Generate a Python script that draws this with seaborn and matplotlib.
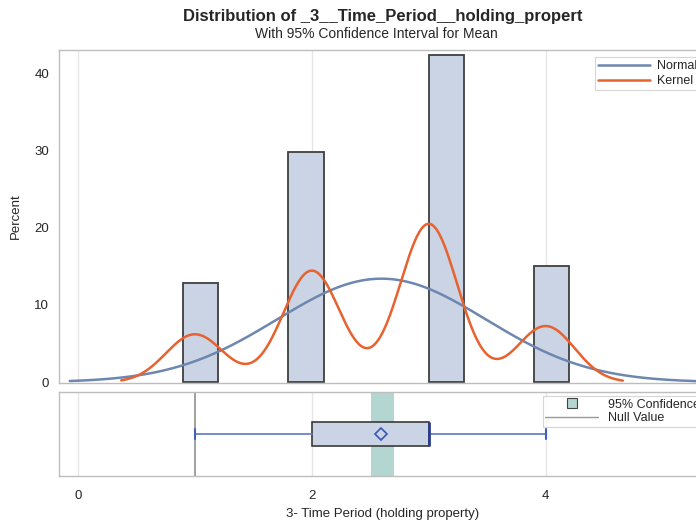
import numpy as np
import pandas as pd
import matplotlib
matplotlib.use("Agg")
import matplotlib.pyplot as plt
from matplotlib.lines import Line2D
import seaborn as sns

# ---- data ----
values = [1, 2, 3, 4]                      # holding-period categories
bin_mids = [1.05, 1.95, 3.15, 4.05]        # histogram bin midpoints (bin width 0.3)
percents = [12.8, 29.8, 42.3, 15.0]        # bar heights (percent)
bin_width = 0.3
kernel_bw = 0.247
box_whislo, box_q1, box_med, box_q3, box_whishi = 1, 2, 3, 3, 4
ci_low, ci_high = 2.51, 2.70
null_value = 1
x_ticks = [0, 2, 4]
y_ticks = [0, 10, 20, 30, 40]

title = "Distribution of _3__Time_Period__holding_propert"
subtitle = "With 95% Confidence Interval for Mean"
xlabel = "3- Time Period (holding property)"
ylabel = "Percent"

# ---- derived statistics ----
v = np.array(values, float)
p = np.array(percents, float)
mean = (v * p).sum() / p.sum()
sd = np.sqrt(((v - mean) ** 2 * p).sum() / p.sum())

xn = np.linspace(-0.07, 5.6, 400)
yn = 100 * bin_width * np.exp(-0.5 * ((xn - mean) / sd) ** 2) / (sd * np.sqrt(2 * np.pi))
xk = np.linspace(0.37, 4.66, 400)
yk = np.zeros_like(xk)
for vi, pi in zip(v, p):
    yk += pi * bin_width * np.exp(-0.5 * ((xk - vi) / kernel_bw) ** 2) / (kernel_bw * np.sqrt(2 * np.pi))

df = pd.DataFrame({"mid": bin_mids, "percent": percents})
curves = pd.concat([
    pd.DataFrame({"x": xn, "y": yn, "curve": "Normal"}),
    pd.DataFrame({"x": xk, "y": yk, "curve": "Kernel"}),
])

# ---- style ----
sns.set_style("white")
plt.rcParams["font.family"] = ["Liberation Sans", "DejaVu Sans"]

GRID = "#e6e6e6"
SPINE = "#bdbdbd"
BAR_FILL = "#cad4e4"
BAR_EDGE = "#3f3f3f"
NORMAL_C = "#6d87b0"
KERNEL_C = "#e8622f"

fig = plt.figure(figsize=(6.96, 5.23), dpi=100)
ax1 = fig.add_axes([0.0848, 0.2677, 0.968, 0.6367])
ax2 = fig.add_axes([0.0848, 0.0899, 0.968, 0.1606])

xlim = (-0.162, 5.6)

# ---- main panel ----
for xt in x_ticks:
    ax1.axvline(xt, color=GRID, lw=1, zorder=0)
lo = min(bin_mids) - bin_width / 2
hi = max(bin_mids) + bin_width / 2
sns.histplot(data=df, x="mid", weights="percent", binwidth=bin_width, binrange=(lo, hi),
             stat="count", color=BAR_FILL, edgecolor=BAR_EDGE, linewidth=1.3,
             alpha=1, ax=ax1, zorder=2)
for patch in list(ax1.patches):
    if patch.get_height() <= 0:
        patch.remove()
sns.lineplot(data=curves, x="x", y="y", hue="curve", palette={"Normal": NORMAL_C, "Kernel": KERNEL_C},
             linewidth=1.8, legend=False, ax=ax1, zorder=3, sort=False, estimator=None)
ax1.set_xlim(*xlim)
ax1.set_ylim(-0.1, 43)
ax1.set_yticks(y_ticks)
ax1.set_xticks([])
ax1.set_xlabel("")
ax1.set_ylabel(ylabel, fontsize=9.5, labelpad=9)
ax1.tick_params(axis="y", direction="out", length=4, width=0.8, color="#888888", labelsize=9.5, pad=3)
ax1.tick_params(axis="x", length=0)
for s in ["left", "top", "bottom", "right"]:
    ax1.spines[s].set_color(SPINE)
    ax1.spines[s].set_linewidth(1)

h1 = [Line2D([], [], color=NORMAL_C, lw=1.8), Line2D([], [], color=KERNEL_C, lw=1.8)]
leg1 = ax1.legend(h1, ["Normal", "Kernel"], loc="upper left", bbox_to_anchor=(0.795, 0.979),
                  fontsize=9, frameon=True, fancybox=False, edgecolor="#cccccc",
                  handlelength=4.2, handletextpad=0.55, borderpad=0.25, labelspacing=0.25,
                  borderaxespad=0)
leg1.get_frame().set_linewidth(0.8)

# ---- lower (box) panel ----
for xt in x_ticks:
    ax2.axvline(xt, color=GRID, lw=1, zorder=0)
ax2.axvspan(ci_low, ci_high, color="#b4d6d1", zorder=1, lw=0)
ax2.axvline(null_value, color="#999999", lw=1.3, zorder=1.5)
stats = [dict(whislo=box_whislo, q1=box_q1, med=box_med, q3=box_q3, whishi=box_whishi,
              mean=mean, fliers=[])]
ax2.bxp(stats, positions=[0], orientation="horizontal", widths=0.55, capwidths=0.25,
        patch_artist=True, showmeans=True, showfliers=False,
        boxprops=dict(facecolor=BAR_FILL, edgecolor="#3a3a3a", linewidth=1.2),
        whiskerprops=dict(color="#5b78c0", linewidth=1.2),
        capprops=dict(color="#4062b5", linewidth=1.5),
        medianprops=dict(color="#2b3d8c", linewidth=2),
        meanprops=dict(marker="D", markerfacecolor="none", markeredgecolor="#3656b8",
                       markersize=6.5, markeredgewidth=1.2),
        zorder=2)
ax2.set_xlim(*xlim)
ax2.set_ylim(-1, 1)
ax2.set_yticks([])
ax2.set_xticks(x_ticks)
ax2.set_xticklabels([str(t) for t in x_ticks])
ax2.tick_params(axis="x", direction="out", length=4, width=0.8, color="#888888", labelsize=9.5, pad=6)
for s in ["left", "top", "bottom", "right"]:
    ax2.spines[s].set_color(SPINE)
    ax2.spines[s].set_linewidth(1)

h2 = [Line2D([], [], marker="s", linestyle="none", markersize=6.5, markerfacecolor="#b4d6d1",
             markeredgecolor="#444444", markeredgewidth=0.8),
      Line2D([], [], color="#999999", lw=1)]
leg2 = ax2.legend(h2, ["95% Confidence Interval", "Null Value"], loc="upper left",
                  bbox_to_anchor=(0.718, 0.952), fontsize=9, frameon=True, fancybox=False,
                  edgecolor="#cccccc", handlelength=4.2, handletextpad=0.8, borderpad=0.2,
                  labelspacing=0.15, borderaxespad=0)
leg2.get_frame().set_linewidth(0.8)

# ---- titles ----
fig.text(383 / 696, 1 - 17 / 523, title, ha="center", va="center", fontsize=12, fontweight="bold")
fig.text(376 / 696, 1 - 33.5 / 523, subtitle, ha="center", va="center", fontsize=10)
fig.text(383 / 696, 1 - 514 / 523, xlabel, ha="center", va="center", fontsize=9.5)

fig.savefig("out.png", dpi=100)
